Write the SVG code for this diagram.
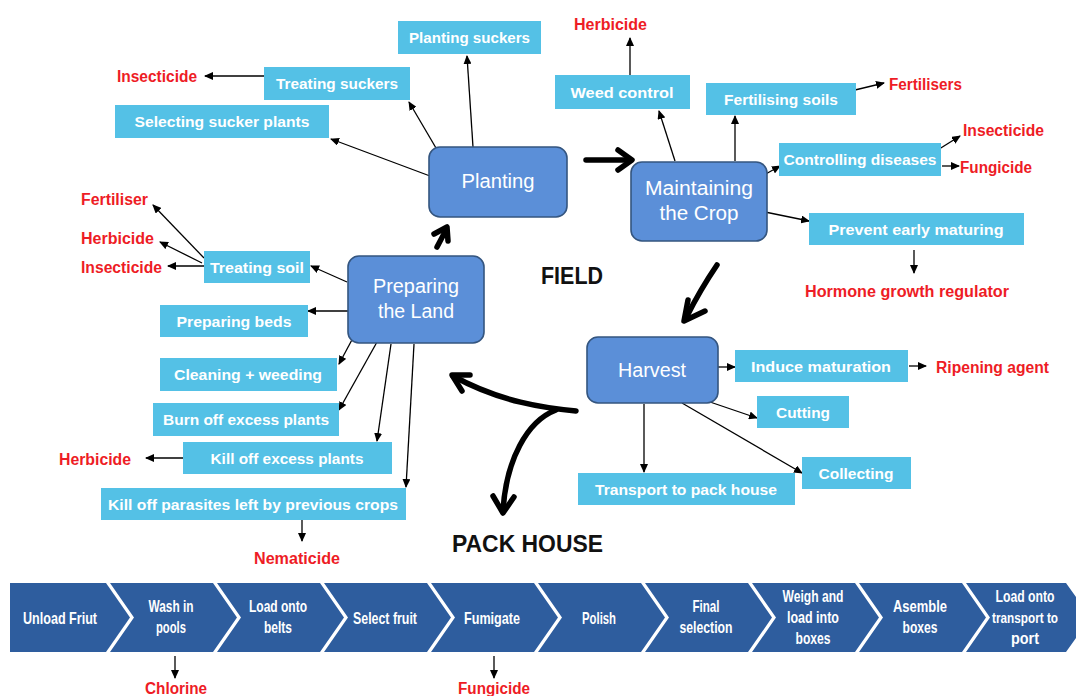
<svg xmlns="http://www.w3.org/2000/svg" width="1076" height="696" viewBox="0 0 1076 696">
<defs>
<style>
.lb{fill:#54C1E6}
.lt{font-family:"Liberation Sans",Arial,sans-serif;font-weight:bold;font-size:15.5px;fill:#fff;text-anchor:middle}
.rd{font-family:"Liberation Sans",Arial,sans-serif;font-weight:bold;font-size:16px;fill:#EE1C25}
.pb{fill:#5B8FD8;stroke:#34557F;stroke-width:1.6}
.pt{font-family:"Liberation Sans",Arial,sans-serif;font-size:19.5px;fill:#fff;text-anchor:middle}
.ch{fill:#2E5D9E}
.ct{font-family:"Liberation Sans Narrow","Liberation Sans",Arial,sans-serif;font-weight:bold;font-size:17px;fill:#fff;text-anchor:middle}
.bk{font-family:"Liberation Sans",Arial,sans-serif;font-weight:bold;font-size:23px;fill:#111}
.th{stroke:#000;stroke-width:1.3;fill:none}
.tk{stroke:#000;stroke-width:5.5;fill:none;stroke-linecap:round;stroke-linejoin:round}
</style>
<marker id="ah" markerUnits="userSpaceOnUse" markerWidth="9" markerHeight="8" refX="8" refY="4" orient="auto">
<path d="M0,0 L9,4 L0,8 Z" fill="#000"/>
</marker>
</defs>
<rect width="1076" height="696" fill="#fff"/>

<g id="connectors">
<g class="th" marker-end="url(#ah)">
<line x1="473" y1="147" x2="467" y2="56"/>
<line x1="436" y1="148" x2="409" y2="102"/>
<line x1="430" y1="176" x2="331" y2="139"/>
<line x1="264" y1="76" x2="205" y2="76"/>
<line x1="675" y1="161" x2="659" y2="111"/>
<line x1="735" y1="161" x2="735" y2="116"/>
<line x1="630" y1="75" x2="630" y2="38"/>
<line x1="855" y1="90" x2="884" y2="83"/>
<line x1="764" y1="175" x2="780" y2="166"/>
<line x1="936" y1="151" x2="960" y2="136"/>
<line x1="942" y1="166" x2="959" y2="166"/>
<line x1="765" y1="212" x2="809" y2="221"/>
<line x1="914" y1="250" x2="914" y2="273"/>
<line x1="718" y1="367" x2="735" y2="367"/>
<line x1="909" y1="366" x2="926" y2="366"/>
<line x1="710" y1="402" x2="757" y2="418"/>
<line x1="682" y1="403" x2="802" y2="473"/>
<line x1="644" y1="404" x2="644" y2="472"/>
<line x1="347" y1="282" x2="311" y2="266"/>
<line x1="204" y1="258" x2="153" y2="205"/>
<line x1="202" y1="263" x2="160" y2="242"/>
<line x1="204" y1="266" x2="168" y2="266"/>
<line x1="348" y1="311" x2="308" y2="311"/>
<line x1="354" y1="336" x2="339" y2="364"/>
<line x1="377" y1="342" x2="339" y2="410"/>
<line x1="391" y1="344" x2="377" y2="441"/>
<line x1="414" y1="344" x2="406" y2="487"/>
<line x1="183" y1="458" x2="146" y2="458"/>
<line x1="302" y1="520" x2="302" y2="541"/>
<line x1="175" y1="656" x2="175" y2="678"/>
<line x1="494" y1="656" x2="494" y2="678"/>
</g>
<g class="tk">
<path d="M586 160 L630 160"/>
<polyline points="618,150 632,160 618,170"/>
<path d="M437 247 L446 230"/>
<polyline points="434,234 447,227 448,241"/>
<path d="M717 265 Q700 290 686 318"/>
<polyline points="688,300 684,321 705,311"/>
<path d="M576 411 C545 408 500 402 453 376"/>
<polyline points="470,375 452,375 462,391"/>
<path d="M556 410 C527 421 506 460 503 511"/>
<polyline points="493,496 503,513 514,497"/>
</g>
</g>

<g id="planting"><rect class="pb" x="429" y="147" width="138" height="70" rx="11"/><text class="pt" x="498" y="188" textLength="73" lengthAdjust="spacingAndGlyphs">Planting</text></g>
<g id="maintaining"><rect class="pb" x="631" y="162" width="136" height="79" rx="11"/><text class="pt" x="699" y="195" textLength="108" lengthAdjust="spacingAndGlyphs">Maintaining</text><text class="pt" x="699" y="220" textLength="79" lengthAdjust="spacingAndGlyphs">the Crop</text></g>
<g id="preparing"><rect class="pb" x="348" y="256" width="136" height="87" rx="11"/><text class="pt" x="416" y="293" textLength="86" lengthAdjust="spacingAndGlyphs">Preparing</text><text class="pt" x="416" y="318" textLength="76" lengthAdjust="spacingAndGlyphs">the Land</text></g>
<g id="harvest"><rect class="pb" x="587" y="337" width="131" height="66" rx="11"/><text class="pt" x="652" y="377" textLength="68" lengthAdjust="spacingAndGlyphs">Harvest</text></g>

<g id="planting-suckers"><rect class="lb" x="398" y="21" width="143" height="33"/><text class="lt" x="469.5" y="43" textLength="121" lengthAdjust="spacingAndGlyphs">Planting suckers</text></g>
<g id="treating-suckers"><rect class="lb" x="264" y="67" width="146" height="33"/><text class="lt" x="337" y="89" textLength="122" lengthAdjust="spacingAndGlyphs">Treating suckers</text></g>
<g id="selecting"><rect class="lb" x="115" y="105" width="214" height="33"/><text class="lt" x="222" y="127" textLength="175" lengthAdjust="spacingAndGlyphs">Selecting sucker plants</text></g>
<g id="weed-control"><rect class="lb" x="555" y="75" width="135" height="34"/><text class="lt" x="622" y="97.5" textLength="103" lengthAdjust="spacingAndGlyphs">Weed control</text></g>
<g id="fertilising-soils"><rect class="lb" x="706" y="83" width="150" height="32"/><text class="lt" x="781" y="104.5" textLength="114" lengthAdjust="spacingAndGlyphs">Fertilising soils</text></g>
<g id="controlling-diseases"><rect class="lb" x="779" y="143" width="162" height="33"/><text class="lt" x="860" y="165" textLength="153" lengthAdjust="spacingAndGlyphs">Controlling diseases</text></g>
<g id="prevent"><rect class="lb" x="809" y="213" width="215" height="32"/><text class="lt" x="916" y="234.5" textLength="175" lengthAdjust="spacingAndGlyphs">Prevent early maturing</text></g>
<g id="treating-soil"><rect class="lb" x="204" y="251" width="106" height="32"/><text class="lt" x="257" y="272.5" textLength="94" lengthAdjust="spacingAndGlyphs">Treating soil</text></g>
<g id="preparing-beds"><rect class="lb" x="160" y="305" width="148" height="32"/><text class="lt" x="234" y="326.5" textLength="115" lengthAdjust="spacingAndGlyphs">Preparing beds</text></g>
<g id="cleaning"><rect class="lb" x="160" y="358" width="177" height="33"/><text class="lt" x="248" y="380" textLength="148" lengthAdjust="spacingAndGlyphs">Cleaning + weeding</text></g>
<g id="burn-off"><rect class="lb" x="153" y="403" width="186" height="33"/><text class="lt" x="246" y="425" textLength="166" lengthAdjust="spacingAndGlyphs">Burn off excess plants</text></g>
<g id="kill-excess"><rect class="lb" x="183" y="442" width="209" height="32"/><text class="lt" x="287" y="463.5" textLength="153" lengthAdjust="spacingAndGlyphs">Kill off excess plants</text></g>
<g id="kill-parasites"><rect class="lb" x="101" y="488" width="305" height="32"/><text class="lt" x="253" y="509.5" textLength="290" lengthAdjust="spacingAndGlyphs">Kill off parasites left by previous crops</text></g>
<g id="induce"><rect class="lb" x="735" y="350" width="173" height="32"/><text class="lt" x="821" y="371.5" textLength="140" lengthAdjust="spacingAndGlyphs">Induce maturation</text></g>
<g id="cutting"><rect class="lb" x="757" y="396" width="92" height="32"/><text class="lt" x="803" y="417.5" textLength="54" lengthAdjust="spacingAndGlyphs">Cutting</text></g>
<g id="collecting"><rect class="lb" x="802" y="457" width="109" height="32"/><text class="lt" x="856" y="478.5" textLength="75" lengthAdjust="spacingAndGlyphs">Collecting</text></g>
<g id="transport"><rect class="lb" x="578" y="473" width="217" height="32"/><text class="lt" x="686" y="494.5" textLength="182" lengthAdjust="spacingAndGlyphs">Transport to pack house</text></g>

<g id="labels">
<text class="rd" x="574" y="30" textLength="73" lengthAdjust="spacingAndGlyphs">Herbicide</text>
<text class="rd" x="117" y="82" textLength="80" lengthAdjust="spacingAndGlyphs">Insecticide</text>
<text class="rd" x="81" y="205" textLength="67" lengthAdjust="spacingAndGlyphs">Fertiliser</text>
<text class="rd" x="81" y="244" textLength="73" lengthAdjust="spacingAndGlyphs">Herbicide</text>
<text class="rd" x="81" y="273" textLength="81" lengthAdjust="spacingAndGlyphs">Insecticide</text>
<text class="rd" x="889" y="90" textLength="73" lengthAdjust="spacingAndGlyphs">Fertilisers</text>
<text class="rd" x="963" y="136" textLength="81" lengthAdjust="spacingAndGlyphs">Insecticide</text>
<text class="rd" x="960" y="173" textLength="72" lengthAdjust="spacingAndGlyphs">Fungicide</text>
<text class="rd" x="805" y="297" textLength="204" lengthAdjust="spacingAndGlyphs">Hormone growth regulator</text>
<text class="rd" x="936" y="373" textLength="113" lengthAdjust="spacingAndGlyphs">Ripening agent</text>
<text class="rd" x="59" y="465" textLength="72" lengthAdjust="spacingAndGlyphs">Herbicide</text>
<text class="rd" x="254" y="564" textLength="86" lengthAdjust="spacingAndGlyphs">Nematicide</text>
<text class="rd" x="145" y="694" textLength="62" lengthAdjust="spacingAndGlyphs">Chlorine</text>
<text class="rd" x="458" y="694" textLength="72" lengthAdjust="spacingAndGlyphs">Fungicide</text>
<text class="bk" x="541" y="284" textLength="62" lengthAdjust="spacingAndGlyphs">FIELD</text>
<text class="bk" x="452" y="552" textLength="151" lengthAdjust="spacingAndGlyphs">PACK HOUSE</text>
</g>

<g id="pack-house">
<polygon class="ch" points="10,583 106,583 130,617.5 106,652 10,652"/>
<polygon class="ch" points="110,583 213,583 237,617.5 213,652 110,652 134,617.5"/>
<polygon class="ch" points="217,583 320,583 344,617.5 320,652 217,652 241,617.5"/>
<polygon class="ch" points="324,583 427,583 451,617.5 427,652 324,652 348,617.5"/>
<polygon class="ch" points="431,583 534,583 558,617.5 534,652 431,652 455,617.5"/>
<polygon class="ch" points="538,583 641,583 665,617.5 641,652 538,652 562,617.5"/>
<polygon class="ch" points="645,583 748,583 772,617.5 748,652 645,652 669,617.5"/>
<polygon class="ch" points="752,583 855,583 879,617.5 855,652 752,652 776,617.5"/>
<polygon class="ch" points="859,583 962,583 986,617.5 962,652 859,652 883,617.5"/>
<polygon class="ch" points="966,583 1066,583 1076,597 1076,638 1066,652 966,652 990,617.5"/>
<text class="ct" x="60" y="624" textLength="74" lengthAdjust="spacingAndGlyphs">Unload Friut</text>
<text class="ct" x="171" y="612" textLength="45" lengthAdjust="spacingAndGlyphs">Wash in</text>
<text class="ct" x="171" y="633" textLength="30" lengthAdjust="spacingAndGlyphs">pools</text>
<text class="ct" x="278" y="612" textLength="58" lengthAdjust="spacingAndGlyphs">Load onto</text>
<text class="ct" x="278" y="633" textLength="28" lengthAdjust="spacingAndGlyphs">belts</text>
<text class="ct" x="385" y="624" textLength="64" lengthAdjust="spacingAndGlyphs">Select fruit</text>
<text class="ct" x="492" y="624" textLength="56" lengthAdjust="spacingAndGlyphs">Fumigate</text>
<text class="ct" x="599" y="624" textLength="34" lengthAdjust="spacingAndGlyphs">Polish</text>
<text class="ct" x="706" y="612" textLength="27" lengthAdjust="spacingAndGlyphs">Final</text>
<text class="ct" x="706" y="633" textLength="53" lengthAdjust="spacingAndGlyphs">selection</text>
<text class="ct" x="813" y="602" textLength="61" lengthAdjust="spacingAndGlyphs">Weigh and</text>
<text class="ct" x="813" y="623" textLength="52" lengthAdjust="spacingAndGlyphs">load into</text>
<text class="ct" x="813" y="644" textLength="35" lengthAdjust="spacingAndGlyphs">boxes</text>
<text class="ct" x="920" y="612" textLength="54" lengthAdjust="spacingAndGlyphs">Asemble</text>
<text class="ct" x="920" y="633" textLength="35" lengthAdjust="spacingAndGlyphs">boxes</text>
<text class="ct" x="1025" y="602" textLength="59" lengthAdjust="spacingAndGlyphs">Load onto</text>
<text class="ct" x="1025" y="623" style="font-size:15px" textLength="66" lengthAdjust="spacingAndGlyphs">transport to</text>
<text class="ct" x="1025" y="644" textLength="28" lengthAdjust="spacingAndGlyphs">port</text>
</g>
</svg>
